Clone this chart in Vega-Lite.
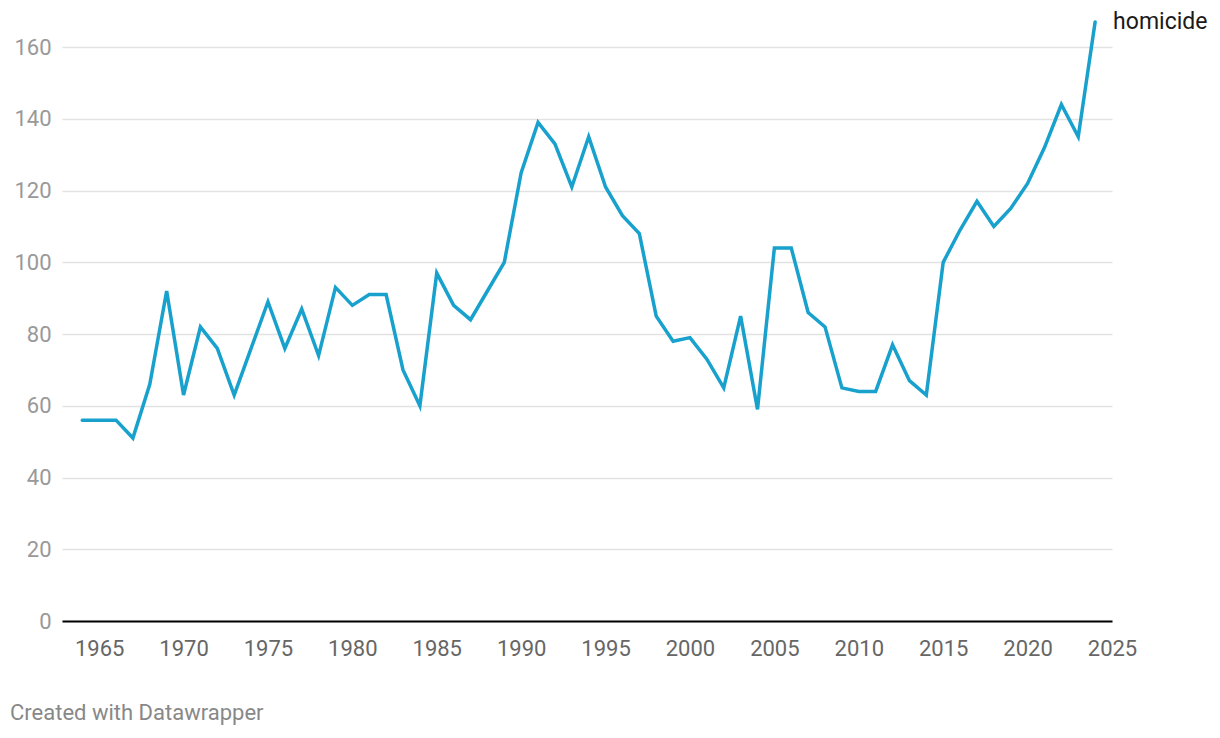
{
  "$schema": "https://vega.github.io/schema/vega-lite/v6.json",
  "autosize": {"type": "none"},
  "width": 1050,
  "height": 599,
  "padding": {"left": 62, "top": 22, "right": 108, "bottom": 117},
  "background": "white",
  "config": {
    "font": "Roboto",
    "view": {"stroke": null}
  },
  "title": {
    "text": "Created with Datawrapper",
    "orient": "bottom",
    "anchor": "start",
    "frame": "group",
    "dx": -52,
    "offset": 44,
    "fontSize": 22,
    "fontWeight": "normal",
    "color": "#888888",
    "font": "Roboto"
  },
  "data": {
    "values": [
      {"year": 1964, "homicide": 56}, {"year": 1965, "homicide": 56}, {"year": 1966, "homicide": 56},
      {"year": 1967, "homicide": 51}, {"year": 1968, "homicide": 66}, {"year": 1969, "homicide": 92},
      {"year": 1970, "homicide": 63}, {"year": 1971, "homicide": 82}, {"year": 1972, "homicide": 76},
      {"year": 1973, "homicide": 63}, {"year": 1974, "homicide": 76}, {"year": 1975, "homicide": 89},
      {"year": 1976, "homicide": 76}, {"year": 1977, "homicide": 87}, {"year": 1978, "homicide": 74},
      {"year": 1979, "homicide": 93}, {"year": 1980, "homicide": 88}, {"year": 1981, "homicide": 91},
      {"year": 1982, "homicide": 91}, {"year": 1983, "homicide": 70}, {"year": 1984, "homicide": 60},
      {"year": 1985, "homicide": 97}, {"year": 1986, "homicide": 88}, {"year": 1987, "homicide": 84},
      {"year": 1988, "homicide": 92}, {"year": 1989, "homicide": 100}, {"year": 1990, "homicide": 125},
      {"year": 1991, "homicide": 139}, {"year": 1992, "homicide": 133}, {"year": 1993, "homicide": 121},
      {"year": 1994, "homicide": 135}, {"year": 1995, "homicide": 121}, {"year": 1996, "homicide": 113},
      {"year": 1997, "homicide": 108}, {"year": 1998, "homicide": 85}, {"year": 1999, "homicide": 78},
      {"year": 2000, "homicide": 79}, {"year": 2001, "homicide": 73}, {"year": 2002, "homicide": 65},
      {"year": 2003, "homicide": 85}, {"year": 2004, "homicide": 59}, {"year": 2005, "homicide": 104},
      {"year": 2006, "homicide": 104}, {"year": 2007, "homicide": 86}, {"year": 2008, "homicide": 82},
      {"year": 2009, "homicide": 65}, {"year": 2010, "homicide": 64}, {"year": 2011, "homicide": 64},
      {"year": 2012, "homicide": 77}, {"year": 2013, "homicide": 67}, {"year": 2014, "homicide": 63},
      {"year": 2015, "homicide": 100}, {"year": 2016, "homicide": 109}, {"year": 2017, "homicide": 117},
      {"year": 2018, "homicide": 110}, {"year": 2019, "homicide": 115}, {"year": 2020, "homicide": 122},
      {"year": 2021, "homicide": 132}, {"year": 2022, "homicide": 144}, {"year": 2023, "homicide": 135},
      {"year": 2024, "homicide": 167}
    ]
  },
  "encoding": {
    "x": {
      "field": "year",
      "type": "quantitative",
      "scale": {"domain": [1962.8, 2025], "nice": false, "zero": false},
      "axis": {
        "title": null,
        "values": [1965, 1970, 1975, 1980, 1985, 1990, 1995, 2000, 2005, 2010, 2015, 2020, 2025],
        "format": "d",
        "grid": false,
        "ticks": false,
        "domain": true,
        "domainColor": "#000000",
        "domainWidth": 2,
        "labelFontSize": 22,
        "labelColor": "#666666",
        "labelPadding": 17,
        "labelFlush": false,
        "labelBound": false,
        "labelOverlap": false,
        "labelFont": "Roboto",
        "zindex": 1
      }
    },
    "y": {
      "field": "homicide",
      "type": "quantitative",
      "scale": {"domain": [0, 167], "nice": false},
      "axis": {
        "title": null,
        "values": [0, 20, 40, 60, 80, 100, 120, 140, 160],
        "grid": true,
        "gridColor": "#e2e2e2",
        "gridWidth": 1.5,
        "domain": false,
        "ticks": false,
        "labelFontSize": 22,
        "labelColor": "#999999",
        "labelPadding": 11,
        "labelFont": "Roboto"
      }
    }
  },
  "layer": [
    {
      "mark": {"type": "line", "color": "#18a1cd", "strokeWidth": 3.5, "strokeJoin": "miter", "strokeCap": "round"}
    },
    {
      "transform": [{"filter": "datum.year == 2024"}],
      "mark": {"type": "text", "align": "left", "baseline": "middle", "dx": 18, "fontSize": 23, "color": "#1a1a1a", "font": "Roboto"},
      "encoding": {"text": {"value": "homicide"}}
    }
  ]
}
